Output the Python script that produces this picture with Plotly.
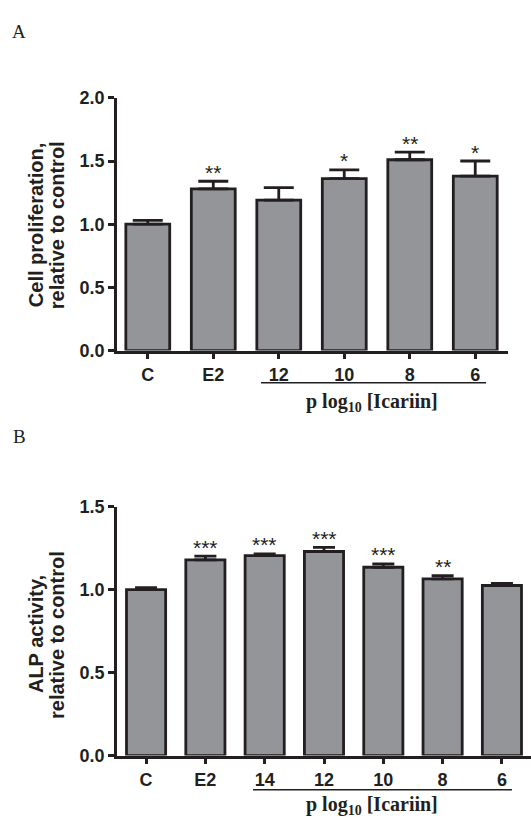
import plotly.graph_objects as go

# ---- data ----
cats_a = ["C", "E2", "12", "10", "8", "6"]
vals_a = [1.00, 1.28, 1.19, 1.36, 1.51, 1.38]
err_a = [0.03, 0.06, 0.10, 0.07, 0.06, 0.12]
sig_a = ["", "**", "", "*", "**", "*"]

cats_b = ["C", "E2", "14", "12", "10", "8", "6"]
vals_b = [1.00, 1.18, 1.205, 1.23, 1.135, 1.065, 1.025]
err_b = [0.012, 0.022, 0.010, 0.025, 0.020, 0.020, 0.013]
sig_b = ["", "***", "***", "***", "***", "**", ""]

yticks_a = [0.0, 0.5, 1.0, 1.5, 2.0]
yticks_b = [0.0, 0.5, 1.0, 1.5]

ytitle_a = ["Cell proliferation,", "relative to control"]
ytitle_b = ["ALP activity,", "relative to control"]

W, H = 531, 828
DARK = "#231f20"
FILL = "#939598"
LW = 2.8

def px_y(y):
    return 1 - y / H

def px_x(x):
    return x / W

fig = go.Figure()
star_anns = []

def add_panel(cats, vals, errs, sigs, xa, ya, bar_w, cap_w):
    idx = list(range(len(cats)))
    fig.add_trace(go.Bar(
        x=idx, y=vals, width=bar_w,
        marker=dict(color=FILL, line=dict(color=DARK, width=LW)),
        error_y=dict(type="data", symmetric=False, array=errs,
                     arrayminus=[0] * len(errs), color=DARK,
                     thickness=LW, width=cap_w),
        xaxis=xa, yaxis=ya, showlegend=False, hoverinfo="skip"))
    for i, v, e, s in zip(idx, vals, errs, sigs):
        if s:
            star_anns.append(dict(
                text=s, x=i, y=v + e, xref=xa, yref=ya,
                xanchor="center", yanchor="middle", yshift=9, showarrow=False,
                font=dict(family="Liberation Sans, Arial", size=21, color=DARK)))

add_panel(cats_a, vals_a, err_a, sig_a, "x", "y", 0.67, 15)
add_panel(cats_b, vals_b, err_b, sig_b, "x2", "y2", 0.66, 11)

tickfont = dict(family="Liberation Sans, Arial", size=18, color=DARK)
common_x = dict(showline=True, linecolor=DARK, linewidth=LW, ticks="outside",
                ticklen=6, tickwidth=LW, tickcolor=DARK, showgrid=False,
                zeroline=False, tickfont=tickfont, fixedrange=True)
common_y = dict(showline=True, linecolor=DARK, linewidth=LW, ticks="outside",
                ticklen=6, tickwidth=LW, tickcolor=DARK, showgrid=False,
                zeroline=False, tickfont=tickfont, fixedrange=True)

fig.update_layout(
    width=W, height=H, margin=dict(l=0, r=0, t=0, b=0),
    paper_bgcolor="white", plot_bgcolor="white",
    font=dict(family="Liberation Sans, Arial", color=DARK),
    xaxis=dict(domain=[px_x(117), px_x(508)], anchor="y", range=[-0.47, 5.5],
               tickvals=list(range(len(cats_a))),
               ticktext=[f"<b>{c}</b>" for c in cats_a], **common_x),
    yaxis=dict(domain=[px_y(349), px_y(90)], anchor="x", range=[0, 2.0],
               tickvals=yticks_a,
               ticktext=[f"<b>{t:.1f}</b>" for t in yticks_a], **common_y),
    xaxis2=dict(domain=[px_x(117), 1.0], anchor="y2", range=[-0.49, 6.49],
                tickvals=list(range(len(cats_b))),
                ticktext=[f"<b>{c}</b>" for c in cats_b], **common_x),
    yaxis2=dict(domain=[px_y(764), px_y(509)], anchor="x2", range=[0, 1.5],
                tickvals=yticks_b,
                ticktext=[f"<b>{t:.1f}</b>" for t in yticks_b], **common_y),
)

ann_font = dict(family="Liberation Sans, Arial", size=20, color=DARK)
times = dict(family="Liberation Serif, Times New Roman, serif", size=20, color=DARK)
serif_lbl = dict(family="Liberation Serif, Times New Roman, serif", size=19, color=DARK)

def ann(text, x, y, font, angle=0):
    return dict(text=text, x=px_x(x), y=px_y(y), xref="paper", yref="paper",
                xanchor="center", yanchor="middle", showarrow=False,
                textangle=angle, font=font)

annotations = [
    ann("A", 19, 22, serif_lbl),
    ann("B", 19, 437, serif_lbl),
    ann(f"<b>{ytitle_a[0]}</b>", 35.5, 221, ann_font, -90),
    ann(f"<b>{ytitle_a[1]}</b>", 56.5, 221, ann_font, -90),
    ann(f"<b>{ytitle_b[0]}</b>", 35.5, 640, ann_font, -90),
    ann(f"<b>{ytitle_b[1]}</b>", 56.5, 641, ann_font, -90),
    ann("<b>p log<sub>10</sub> [Icariin]</b>", 372, 402, times),
    ann("<b>p log<sub>10</sub> [Icariin]</b>", 372, 815, times),
] + star_anns
fig.update_layout(annotations=annotations)

fig.add_shape(type="line", xref="paper", yref="paper",
              x0=px_x(261), x1=px_x(486), y0=px_y(382), y1=px_y(382),
              line=dict(color=DARK, width=1.5))
fig.add_shape(type="line", xref="paper", yref="paper",
              x0=px_x(253), x1=px_x(512), y0=px_y(799), y1=px_y(799),
              line=dict(color=DARK, width=1.5))

fig.write_html(
    "out.html",
    config={"displayModeBar": False},
    post_script="document.body.style.margin='0';document.body.style.overflow='hidden';",
)
